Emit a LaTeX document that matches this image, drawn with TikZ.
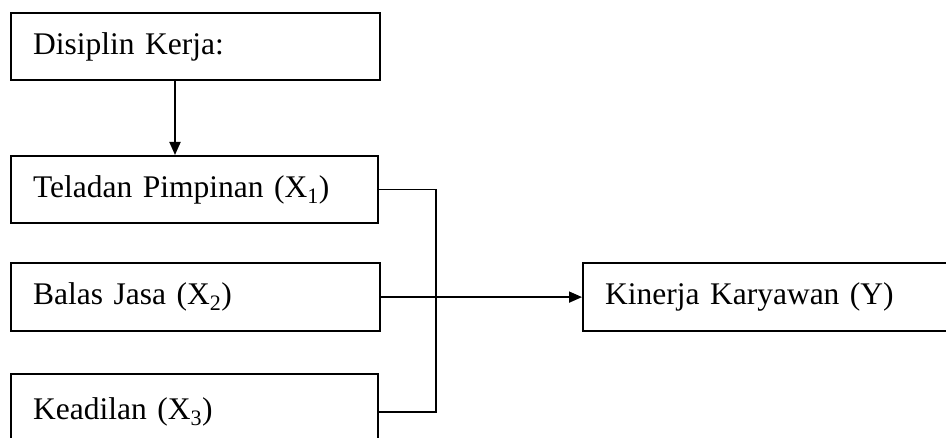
\documentclass[tikz,border=0pt]{standalone}
\usepackage{fontspec}
\setmainfont{Liberation Serif}
\usetikzlibrary{arrows.meta}
\begin{document}
\begin{tikzpicture}[x=1pt,y=1pt,
  varbox/.style={draw, line width=2.2pt, anchor=north west, inner xsep=22pt,
    inner ysep=0pt, align=left, font=\fontsize{31.5}{36}\selectfont},
  link/.style={line width=1.8pt},
  arr/.style={link, -{Triangle[length=13pt,width=11pt]}}]
  \clip (0,0) rectangle (946,-438);
  \fill[white] (0,0) rectangle (946,-438);

  % variable boxes
  \node[varbox, text width=325pt, minimum height=67pt] (dk) at (10,-12) {Disiplin Kerja:};
  \node[varbox, text width=323pt, minimum height=67pt] (x1) at (10,-155) {Teladan Pimpinan (X\textsubscript{1})};
  \node[varbox, text width=325pt, minimum height=68pt] (x2) at (10,-262) {Balas Jasa (X\textsubscript{2})};
  \node[varbox, text width=323pt, minimum height=76pt] (x3) at (10,-373) {Keadilan (X\textsubscript{3})};
  \node[varbox, text width=380pt, minimum height=68pt] (y) at (582,-262) {Kinerja Karyawan (Y)};

  % connectors
  \draw[arr] ([xshift=165pt]dk.south west) -- ([xshift=165pt]x1.north west);
  \coordinate (bus) at (436,-294);
  \draw[link] (x1.east) -| (bus) |- (x3.east);
  \draw[arr] (x2.east) -- (y.west);
\end{tikzpicture}
\end{document}
